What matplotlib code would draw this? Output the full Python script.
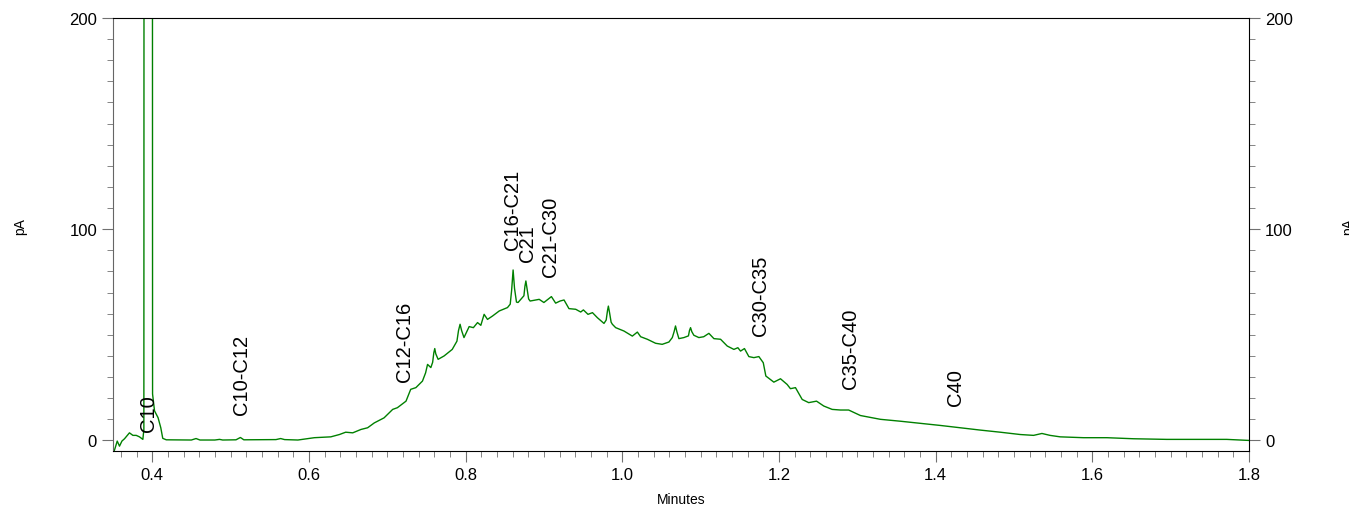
import matplotlib
matplotlib.use("Agg")
import matplotlib.pyplot as plt
from matplotlib.ticker import MultipleLocator

plt.rcParams['font.family'] = ['Liberation Sans', 'DejaVu Sans']

# retention time (min) and detector signal (pA)
minutes = [
    0.3515, 0.3528, 0.3554, 0.3583, 0.3614, 0.3647, 0.371, 0.3754, 0.3796, 0.3838,
    0.3881, 0.3894, 0.3905, 0.3995, 0.4005, 0.403, 0.4075, 0.411, 0.4135, 0.418,
    0.45, 0.456, 0.461, 0.48, 0.486, 0.49, 0.507, 0.5126, 0.517, 0.558,
    0.564, 0.569, 0.586, 0.607, 0.628, 0.639, 0.647, 0.656, 0.6665, 0.675,
    0.6835, 0.696, 0.707, 0.713, 0.724, 0.730, 0.7366, 0.745, 0.749, 0.7515,
    0.7557, 0.758, 0.7595, 0.7607, 0.762, 0.765, 0.7726, 0.783, 0.789, 0.791,
    0.793, 0.795, 0.798, 0.8046, 0.810, 0.8153, 0.8195, 0.8237, 0.828, 0.8344,
    0.843, 0.8535, 0.857, 0.8588, 0.8607, 0.8625, 0.865, 0.867, 0.8745, 0.8758,
    0.877, 0.8785, 0.8805, 0.8824, 0.894, 0.900, 0.9096, 0.915, 0.9206, 0.9257,
    0.932, 0.9406, 0.947, 0.9504, 0.9563, 0.962, 0.9683, 0.9767, 0.9795, 0.9812,
    0.9823, 0.9838, 0.9858, 0.9874, 0.9916, 1.0022, 1.0129, 1.0193, 1.0235, 1.032,
    1.0426, 1.051, 1.0596, 1.0639, 1.0662, 1.068, 1.0697, 1.0723, 1.0787, 1.0845,
    1.0858, 1.0872, 1.0888, 1.0914, 1.0978, 1.104, 1.1106, 1.117, 1.1255, 1.134,
    1.1425, 1.1476, 1.151, 1.156, 1.1616, 1.168, 1.1744, 1.18, 1.1833, 1.1935,
    1.202, 1.2105, 1.2147, 1.2211, 1.2297, 1.238, 1.248, 1.2572, 1.2679, 1.2785,
    1.289, 1.304, 1.3295, 1.355, 1.3805, 1.406, 1.4315, 1.457, 1.4825, 1.508,
    1.525, 1.5357, 1.546, 1.559, 1.5887, 1.6185, 1.6525, 1.695, 1.7375, 1.7715,
    1.8,
]
signal = [
    -5.0, -3.5, -0.3, -2.7, -0.3, 0.8, 3.6, 2.4, 2.4, 1.7,
    0.5, 5.2, 1500, 1500, 22.0, 14.0, 10.8, 6.0, 1.0, 0.3,
    0.2, 0.9, 0.2, 0.2, 0.5, 0.2, 0.3, 1.4, 0.3, 0.4,
    0.9, 0.4, 0.2, 1.3, 1.7, 2.8, 3.9, 3.6, 5.2, 6.0,
    8.3, 10.7, 14.7, 15.5, 18.6, 24.2, 25.0, 28.1, 32.0, 36.0,
    34.5, 37.0, 41.5, 43.5, 41.0, 38.4, 40.0, 43.1, 47.0, 52.0,
    55.0, 52.0, 48.7, 53.9, 53.4, 55.8, 54.5, 59.7, 57.3, 58.9,
    61.3, 62.9, 64.5, 71.0, 80.7, 72.0, 65.5, 65.3, 68.5, 73.0,
    75.5, 72.0, 67.0, 66.0, 66.8, 65.3, 68.1, 65.0, 66.0, 66.5,
    62.4, 62.1, 60.8, 61.8, 59.7, 60.5, 58.1, 55.4, 57.0, 61.5,
    63.6, 60.5, 56.0, 55.0, 53.4, 51.8, 49.4, 51.3, 49.1, 47.9,
    46.0, 45.5, 46.6, 48.7, 51.5, 54.2, 51.5, 48.2, 48.7, 49.5,
    52.0, 53.4, 51.5, 49.8, 48.7, 49.1, 50.7, 48.2, 47.9, 44.7,
    43.1, 43.9, 42.3, 43.5, 39.7, 39.2, 39.7, 36.8, 30.5, 27.6,
    29.2, 26.5, 24.5, 25.0, 19.4, 17.9, 18.6, 16.3, 14.7, 14.4,
    14.4, 11.8, 10.0, 9.1, 8.1, 7.1, 6.0, 4.9, 3.9, 2.8,
    2.4, 3.3, 2.4, 1.7, 1.3, 1.3, 0.8, 0.5, 0.5, 0.5,
    0.0,
]

# carbon range labels: (text, time, bottom of label in pA)
label_text = ["C10", "C10-C12", "C12-C16", "C16-C21", "C21", "C21-C30",
              "C30-C35", "C35-C40", "C40"]
label_time = [0.395, 0.5135, 0.7226, 0.860, 0.879, 0.909, 1.176, 1.291, 1.425]
label_base = [4.3, 12.3, 28.0, 90.5, 84.8, 77.7, 50.0, 25.0, 17.0]

fig = plt.figure(figsize=(13.49, 5.10), dpi=100)
ax = fig.add_axes([113 / 1349, 1 - 452 / 510, (1249 - 113) / 1349, (452 - 19) / 510])

ax.plot(minutes, signal, color="#008000", lw=1.0)

for txt, t, b in zip(label_text, label_time, label_base):
    ax.text(t, b, txt, rotation=90, ha="center", va="bottom", fontsize=14.5)

ax.set_xlim(0.35, 1.8)
ax.set_ylim(-5, 200)

ax.xaxis.set_major_locator(MultipleLocator(0.2))
ax.xaxis.set_minor_locator(MultipleLocator(0.02))
ax.yaxis.set_major_locator(MultipleLocator(100))
ax.yaxis.set_minor_locator(MultipleLocator(10))
ax.xaxis.set_major_formatter(plt.FuncFormatter(lambda v, p: f"{v:.1f}"))

ax.tick_params(which="both", direction="out", colors="#707070", labelcolor="black",
               labelsize=12, left=True, right=True, labelright=True)
ax.tick_params(which="major", length=8)
ax.tick_params(which="minor", length=4.5)
ax.tick_params(axis="x", which="minor", length=4)

ax.spines["left"].set_color("#666666")
for s in ["top", "right", "bottom"]:
    ax.spines[s].set_color("black")

fig.text(20 / 1349, 1 - 227 / 510, "pA", rotation=90, ha="center", va="center", fontsize=10)
fig.text(1348 / 1349, 1 - 227 / 510, "pA", rotation=90, ha="center", va="center", fontsize=10)
fig.text(681 / 1349, 1 - 500 / 510, "Minutes", ha="center", va="center", fontsize=10)

fig.savefig("out.png", dpi=100)
